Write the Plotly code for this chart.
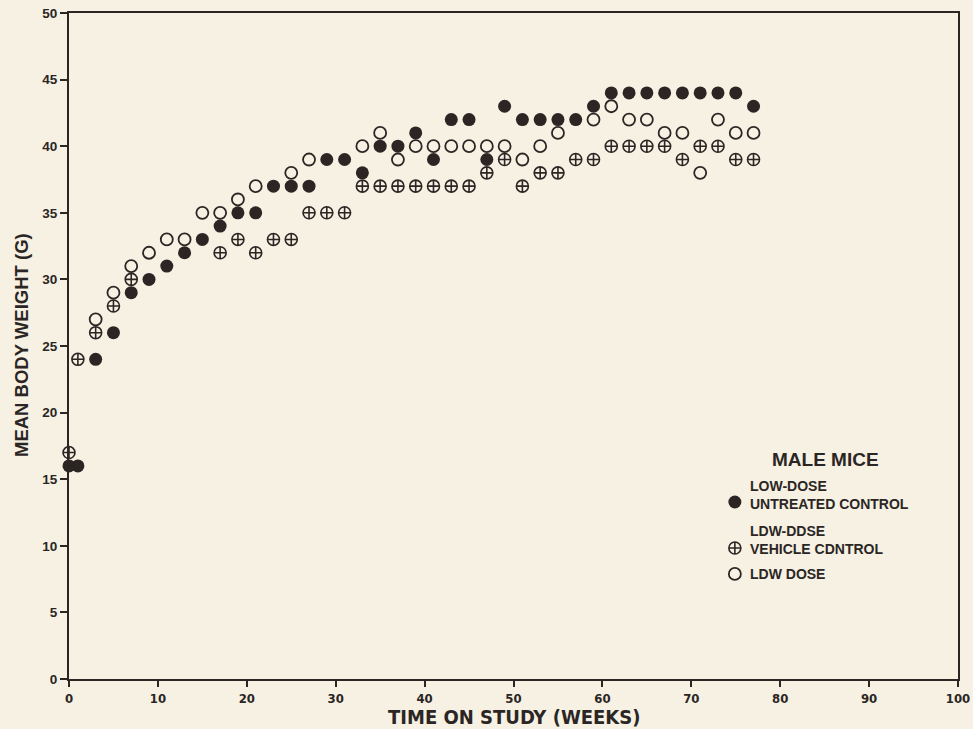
import plotly.graph_objects as go

# Time on study (weeks) at which mean body weights were recorded
weeks = [0, 1, 3, 5, 7, 9, 11, 13, 15, 17, 19, 21, 23, 25, 27, 29, 31, 33, 35, 37,
         39, 41, 43, 45, 47, 49, 51, 53, 55, 57, 59, 61, 63, 65, 67, 69, 71, 73, 75, 77]

# Mean body weight (g), male mice
untreated_control = [16, 16, 24, 26, 29, 30, 31, 32, 33, 34, 35, 35, 37, 37, 37, 39, 39, 38, 40, 40,
                     41, 39, 42, 42, 39, 43, 42, 42, 42, 42, 43, 44, 44, 44, 44, 44, 44, 44, 44, 43]
vehicle_control = [17, 24, 26, 28, 30, None, None, None, None, 32, 33, 32, 33, 33, 35, 35, 35, 37, 37, 37,
                   37, 37, 37, 37, 38, 39, 37, 38, 38, 39, 39, 40, 40, 40, 40, 39, 40, 40, 39, 39]
low_dose = [None, None, 27, 29, 31, 32, 33, 33, 35, 35, 36, 37, None, 38, 39, None, None, 40, 41, 39,
            40, 40, 40, 40, 40, 40, 39, 40, 41, None, 42, 43, 42, 42, 41, 41, 38, 42, 41, 41]

x_ticks = [0, 10, 20, 30, 40, 50, 60, 70, 80, 90, 100]
y_ticks = [0, 5, 10, 15, 20, 25, 30, 35, 40, 45, 50]

series_labels = ["LOW-DOSE<br>UNTREATED CONTROL", "LDW-DDSE<br>VEHICLE CDNTROL", "LDW DOSE"]
legend_title = "MALE MICE"

INK = "#2b2624"
PAPER = "#f6f1e3"
BOLD = "Liberation Sans"
NARROW = "Liberation Sans Narrow, DejaVu Sans Condensed, Liberation Sans"

styles = [
    dict(symbol="circle", size=13, color=INK, line=dict(width=0)),
    dict(symbol="circle-cross-open", size=12, color=INK, line=dict(width=1.6, color=INK)),
    dict(symbol="circle-open", size=12, color=INK, line=dict(width=1.8, color=INK)),
]

fig = go.Figure()

for values, style in zip([untreated_control, vehicle_control, low_dose], styles):
    fig.add_trace(go.Scatter(x=weeks, y=values, mode="markers", marker=style,
                             cliponaxis=False, showlegend=False))

# Key: symbols on an overlay axis spanning the plot area (0..1 each way)
key_x = 0.749
key_sym_y = [0.2658, 0.1967, 0.1577]
key_text_y = [0.277, 0.208, 0.1577]
for sy, style in zip(key_sym_y, styles):
    fig.add_trace(go.Scatter(x=[key_x], y=[sy], mode="markers", marker=style,
                             xaxis="x2", yaxis="y2", showlegend=False, hoverinfo="skip",
                             cliponaxis=False))

annotations = [
    dict(text="TIME ON STUDY (WEEKS)", xref="paper", yref="paper",
         x=0.5, y=-0.057, xanchor="center", yanchor="middle", showarrow=False,
         font=dict(family=NARROW, size=20, color=INK, weight="bold")),
    dict(text="MEAN BODY WEIGHT (G)", xref="paper", yref="paper",
         x=-0.054, y=0.5015, xanchor="center", yanchor="middle", showarrow=False,
         textangle=-90,
         font=dict(family=BOLD, size=18.5, color=INK, weight="bold")),
    dict(text=legend_title, xref="paper", yref="paper",
         x=0.8504, y=0.3303, xanchor="center", yanchor="middle", showarrow=False,
         font=dict(family=BOLD, size=19, color=INK, weight="bold")),
]
for label, ty in zip(series_labels, key_text_y):
    annotations.append(dict(text=label, xref="paper", yref="paper",
                            x=0.7638, y=ty, xanchor="left", yanchor="middle", align="left",
                            showarrow=False,
                            font=dict(family=BOLD, size=14, color=INK, weight="bold")))

fig.update_layout(
    width=973, height=729,
    margin=dict(l=69, r=15, t=13, b=50),
    paper_bgcolor=PAPER, plot_bgcolor=PAPER,
    font=dict(family=BOLD, color=INK, weight="bold"),
    showlegend=False,
    xaxis=dict(
        range=[0, 100], tickvals=x_ticks, ticktext=[str(v) for v in x_ticks],
        showgrid=False, zeroline=False, automargin=False,
        showline=True, linecolor=INK, linewidth=2, mirror=True,
        ticks="outside", ticklen=6, tickwidth=1.5, tickcolor=INK,
        tickfont=dict(family=NARROW, size=13, color=INK, weight="bold"),
    ),
    yaxis=dict(
        range=[0, 50], tickvals=y_ticks, ticktext=[str(v) for v in y_ticks],
        showgrid=False, zeroline=False, automargin=False,
        showline=True, linecolor=INK, linewidth=2, mirror=True,
        ticks="outside", ticklen=7, tickwidth=1.5, tickcolor=INK,
        tickfont=dict(family=BOLD, size=13.5, color=INK, weight="bold"),
    ),
    xaxis2=dict(overlaying="x", range=[0, 1], visible=False, fixedrange=True),
    yaxis2=dict(overlaying="y", range=[0, 1], visible=False, fixedrange=True),
    annotations=annotations,
)

fig.write_html("out.html")
